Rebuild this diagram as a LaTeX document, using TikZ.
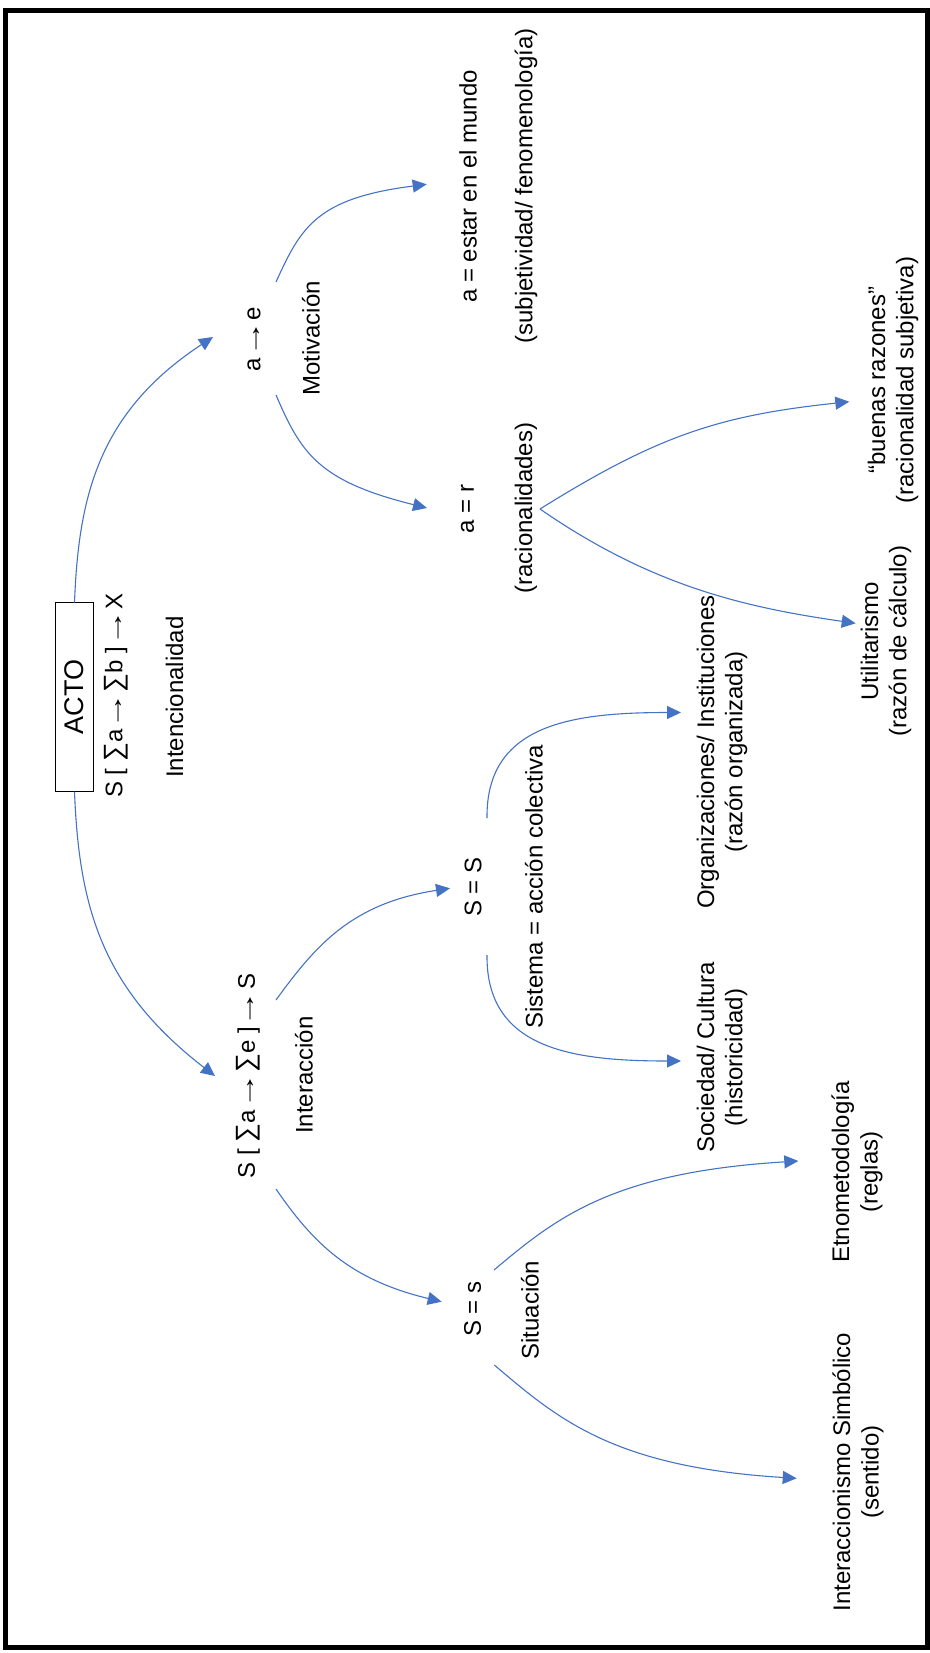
\documentclass[tikz,border=0pt]{standalone}
\usepackage{fontspec}
\setmainfont{Liberation Sans}
\usetikzlibrary{arrows.meta}
\definecolor{linkblue}{HTML}{4472C4}
% arrow and summation signs used in the formulas
\newcommand{\rarrow}{\makebox[1em][c]{\scalebox{1.55}[1]{→}}}
\newcommand{\bigsum}{\scalebox{1.1}{∑}}
\begin{document}
\begin{tikzpicture}[x=0.5pt,y=-0.5pt,
  every node/.style={inner sep=0pt,outer sep=0pt,font=\fontsize{12pt}{14.2pt}\selectfont},
  lbl/.style={rotate=90},
  pair/.style={rotate=90,align=center},
  actobox/.style={draw=black,line width=0.6pt,rotate=90,minimum width=94.5pt,minimum height=18.8pt,
    font=\fontsize{13.5pt}{16pt}\selectfont},
  link/.style={draw=linkblue,line width=0.55pt,-{Triangle[length=7pt,width=6.5pt]}},
  frame/.style={draw=black,line width=2.5pt}]
\useasboundingbox (0,0) rectangle (930,1653);
\draw[frame] (5.8,11) rectangle (927.5,1647.5);

% root
\node[actobox] (acto) at (74.5,697.2) {ACTO};
\node[lbl] (sumX) at (116,695.5) {S [ \bigsum a \rarrow\ \bigsum b ] \rarrow\ X};
\node[lbl] (intenc) at (174.5,697) {Intencionalidad};

% upper branch: motivation
\node[lbl] (ae) at (254,339) {a \rarrow\ e};
\node[lbl] (motiv) at (311,338.5) {Motivación};
\node[lbl] (estar) at (468,186.5) {a = estar en el mundo};
\node[lbl] (subj) at (526,186) {(subjetividad/ fenomenología)};
\node[lbl] (ar) at (467.5,509) {a = r};
\node[lbl] (racio) at (526,508) {(racionalidades)};
\node[pair] (buenas) at (893,380) {“buenas razones”\\(racionalidad subjetiva)};
\node[pair] (util) at (886,641) {Utilitarismo\\(razón de cálculo)};

% lower branch: interaction
\node[lbl] (sumS) at (248.5,1076) {S [ \bigsum a \rarrow\ \bigsum e ] \rarrow\ S};
\node[lbl] (interacc) at (304,1075) {Interacción};
\node[lbl] (SS) at (473,887) {S = S};
\node[lbl] (sistema) at (534,887) {Sistema = acción colectiva};
\node[pair] (org) at (722,752) {Organizaciones/ Instituciones\\(razón organizada)};
\node[pair] (soc) at (722,1057.5) {Sociedad/ Cultura\\(historicidad)};
\node[lbl] (Ss) at (472.5,1309) {S = s};
\node[lbl] (situ) at (530,1310) {Situación};
\node[pair] (etno) at (857,1172) {Etnometodología\\(reglas)};
\node[pair] (inter) at (858,1472) {Interaccionismo Simbólico\\(sentido)};

\coordinate (apex) at ([shift={(14,1)}]racio.center);

% connectors
\draw[link] (acto.east) .. controls +(4,-107) and +(-114,75) .. ([shift={(-41,-2)}]ae.center);
\draw[link] (acto.west) .. controls +(4.5,114) and +(-114,-88) .. ([shift={(-33.5,0)}]sumS.center);

\draw[link] ([shift={(22,-57)}]ae.center) .. controls +(25,-55) and +(-110,14) .. ([shift={(-41.3,-2.2)}]estar.center);
\draw[link] ([shift={(22,56)}]ae.center) .. controls +(25,58) and +(-109,-27) .. ([shift={(-40.5,-1)}]ar.center);

\draw[link] (apex) .. controls +(117.7,-73.4) and +(-130.2,13.8) .. ([shift={(-43.7,21.7)}]buenas.center);
\draw[link] (apex) .. controls +(111,76.9) and +(-111.1,-16) .. ([shift={(-30.3,-17.7)}]util.center);

\draw[link] ([shift={(27.5,-76)}]sumS.center) .. controls +(38.4,-52.7) and +(-99.7,15.1) .. ([shift={(-23,1.3)}]SS.center);
\draw[link] ([shift={(27.5,113)}]sumS.center) .. controls +(36.8,53.6) and +(-92.3,-22.1) .. ([shift={(-30.8,-7.3)}]Ss.center);

\draw[link] ([shift={(14,-69)}]SS.center) .. controls +(-1,-93) and +(-111,0) .. ([shift={(-41,-39.5)}]org.center);
\draw[link] ([shift={(14,68)}]SS.center) .. controls +(-1,93) and +(-111,0) .. ([shift={(-41,3.5)}]soc.center);

\draw[link] ([shift={(21.5,-39)}]Ss.center) .. controls +(62.6,-52.7) and +(-185.5,11.4) .. ([shift={(-58.7,-11)}]etno.center);
\draw[link] ([shift={(21.8,56)}]Ss.center) .. controls +(62.3,52.7) and +(-185,-11.4) .. ([shift={(-61.3,6.3)}]inter.center);
\end{tikzpicture}
\end{document}
